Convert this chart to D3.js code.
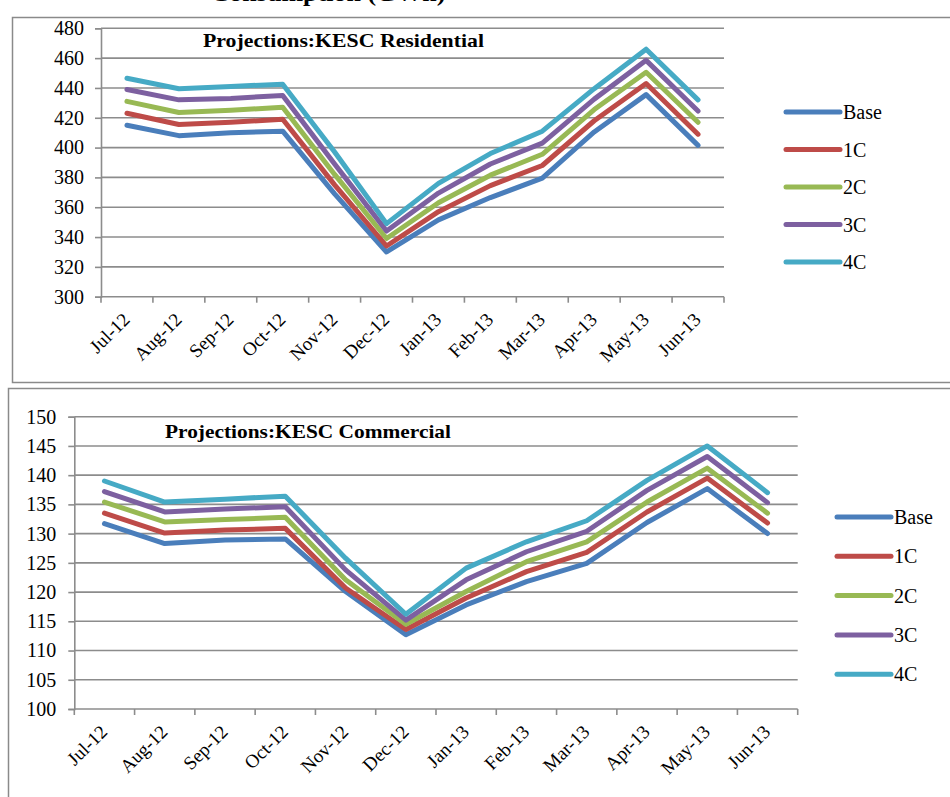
<!DOCTYPE html>
<html>
<head>
<meta charset="utf-8">
<script src="https://cdn.jsdelivr.net/npm/d3@7/dist/d3.min.js"></script>
<style>
  html, body { margin: 0; padding: 0; background: #ffffff; }
  svg { display: block; }
  text { font-family: "Liberation Serif", "Times New Roman", serif; fill: #000; }
</style>
</head>
<body>
<svg id="chart" width="950" height="797"></svg>
<script>
// ---------- data ----------
const months = ["Jul-12","Aug-12","Sep-12","Oct-12","Nov-12","Dec-12","Jan-13","Feb-13","Mar-13","Apr-13","May-13","Jun-13"];
const seriesNames = ["Base","1C","2C","3C","4C"];
const seriesColors = ["#4A7EBB","#BE4B48","#98B954","#7D60A0","#46AAC5"];

const resBase = [415, 408, 410, 411, 369, 330, 351.5, 366.5, 379.5, 410.5, 435.5, 401.5];
const res1C   = [423, 415.5, 417, 419, 375, 334, 357, 374.5, 388, 418, 443, 409];
const res2C   = [431, 423.5, 425, 427, 382, 339, 363, 381.5, 395.5, 425.5, 450.5, 417];
const res3C   = [439, 432, 433, 435, 389, 344, 369.5, 389, 403, 432.5, 458.5, 424.5];
const res4C   = [446.5, 439.5, 441, 442.5, 397, 349, 376, 396, 411, 439.5, 466, 432];
const resTicks = [300, 320, 340, 360, 380, 400, 420, 440, 460, 480];

const comBase = [131.7, 128.3, 128.9, 129.1, 120.1, 112.7, 117.8, 121.8, 124.9, 131.9, 137.7, 130];
const com1C   = [133.5, 130.1, 130.6, 130.9, 120.7, 113.6, 119, 123.5, 126.8, 133.7, 139.5, 131.8];
const com2C   = [135.4, 132, 132.4, 132.8, 122.1, 114.5, 120.1, 125.2, 128.6, 135.4, 141.2, 133.5];
const com3C   = [137.2, 133.7, 134.2, 134.6, 123.8, 115.2, 122.1, 126.9, 130.4, 137.4, 143.2, 135.3];
const com4C   = [139, 135.4, 135.9, 136.4, 125.8, 116.2, 124.1, 128.6, 132.2, 139.1, 145, 137];
const comTicks = [100, 105, 110, 115, 120, 125, 130, 135, 140, 145, 150];

const pageTitle = "Consumption (GWh)";
const resTitle = "Projections:KESC  Residential";
const comTitle = "Projections:KESC Commercial";

// ---------- drawing ----------
const svg = d3.select("#chart");
const gridColor = "#8C8C8C";

// page title (cut off at the top edge, as in the reference)
svg.append("text")
  .attr("x", 328).attr("y", 1)
  .attr("text-anchor", "middle")
  .attr("font-size", 24).attr("font-weight", "bold")
  .attr("textLength", 235).attr("lengthAdjust", "spacingAndGlyphs")
  .text(pageTitle);

// frames
svg.append("rect").attr("x", 12.5).attr("y", 17.5).attr("width", 1000).attr("height", 365)
  .attr("fill", "none").attr("stroke", "#8a8a8a").attr("stroke-width", 1.5);
svg.append("rect").attr("x", 8.5).attr("y", 388.5).attr("width", 1000).attr("height", 500)
  .attr("fill", "#fff").attr("stroke", "#8a8a8a").attr("stroke-width", 1.5);

function drawChart(cfg) {
  const g = svg.append("g");
  const x = d3.scaleBand().domain(months).range([cfg.x0, cfg.x1]);
  const y = d3.scaleLinear().domain(cfg.domain).range([cfg.yBottom, cfg.yTop]);

  // gridlines
  g.selectAll("line.grid").data(cfg.ticks.slice(1)).join("line")
    .attr("x1", cfg.x0).attr("x2", cfg.x1)
    .attr("y1", d => y(d)).attr("y2", d => y(d))
    .attr("stroke", gridColor).attr("stroke-width", 1.6);

  // y axis
  const yAxis = d3.axisLeft(y).tickValues(cfg.ticks).tickSize(6).tickPadding(cfg.yPad).tickFormat(d3.format("d"));
  const ya = g.append("g").attr("transform", `translate(${cfg.x0},0)`).call(yAxis);
  ya.select(".domain").attr("stroke", gridColor).attr("stroke-width", 1.6);
  ya.selectAll(".tick line").attr("stroke", gridColor).attr("stroke-width", 1.6);
  ya.selectAll(".tick text").attr("font-size", 20).attr("font-family", "Liberation Serif, serif").attr("fill", "#000");

  // x axis (ticks at category boundaries)
  const bounds = months.map(m => x(m)).concat([cfg.x1]);
  g.append("line").attr("x1", cfg.x0).attr("x2", cfg.x1)
    .attr("y1", cfg.yBottom).attr("y2", cfg.yBottom)
    .attr("stroke", gridColor).attr("stroke-width", 1.6);
  g.selectAll("line.xt").data(bounds).join("line")
    .attr("x1", d => d).attr("x2", d => d)
    .attr("y1", cfg.yBottom).attr("y2", cfg.yBottom + 6)
    .attr("stroke", gridColor).attr("stroke-width", 1.6);
  g.selectAll("text.xl").data(months).join("text")
    .attr("transform", d => `translate(${x(d) + x.bandwidth() / 2 + 4},${cfg.yBottom + 24}) rotate(-45)`)
    .attr("text-anchor", "end")
    .attr("font-size", 19)
    .text(d => d);

  // lines
  const line = d3.line()
    .x((d, i) => x(months[i]) + x.bandwidth() / 2)
    .y(d => y(d));
  cfg.series.forEach((s, k) => {
    g.append("path").datum(s)
      .attr("d", line)
      .attr("fill", "none")
      .attr("stroke", seriesColors[k])
      .attr("stroke-width", 5)
      .attr("stroke-linejoin", "round")
      .attr("stroke-linecap", "round");
  });

  // inner title
  g.append("text").attr("x", cfg.titleX).attr("y", cfg.titleY)
    .attr("font-size", 19).attr("font-weight", "bold")
    .attr("textLength", cfg.titleLen).attr("lengthAdjust", "spacingAndGlyphs")
    .text(cfg.title);

  // legend
  const lg = g.append("g");
  seriesNames.forEach((n, k) => {
    const yy = cfg.legY + k * cfg.legStep;
    lg.append("line").attr("x1", cfg.legX).attr("x2", cfg.legX + 54)
      .attr("y1", yy).attr("y2", yy)
      .attr("stroke", seriesColors[k]).attr("stroke-width", 5).attr("stroke-linecap", "round");
    lg.append("text").attr("x", cfg.legX + 57).attr("y", yy + 7)
      .attr("font-size", 20).text(n);
  });
}

drawChart({
  x0: 101, x1: 724, yTop: 28.3, yBottom: 296.7, domain: [300, 480], ticks: resTicks, yPad: 11,
  series: [resBase, res1C, res2C, res3C, res4C],
  title: resTitle, titleX: 203, titleY: 47, titleLen: 281,
  legX: 786, legY: 112, legStep: 37.5
});

drawChart({
  x0: 74.3, x1: 797.7, yTop: 416.7, yBottom: 709, domain: [100, 150], ticks: comTicks, yPad: 12,
  series: [comBase, com1C, com2C, com3C, com4C],
  title: comTitle, titleX: 165, titleY: 438, titleLen: 286,
  legX: 837, legY: 517, legStep: 39.3
});
</script>
</body>
</html>
